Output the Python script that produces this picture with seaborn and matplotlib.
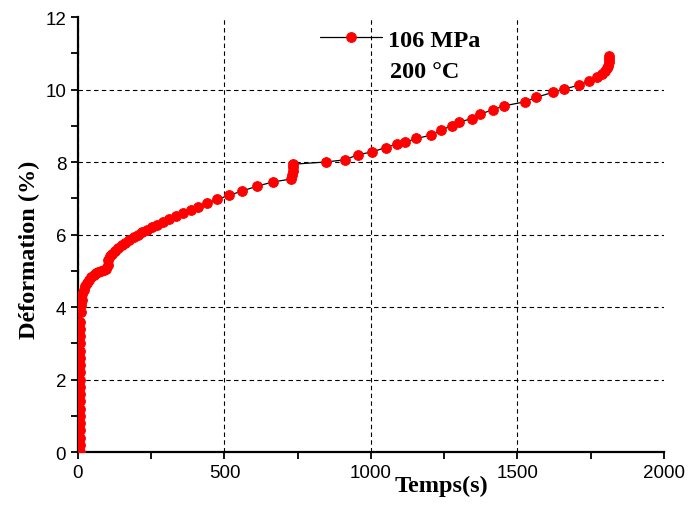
import matplotlib
matplotlib.use('Agg')
import matplotlib.pyplot as plt
from matplotlib.ticker import MultipleLocator
import seaborn as sns

# creep test, 106 MPa / 200 C
time_s = [6, 6, 6, 6, 6, 6, 7, 7, 7, 7, 7, 7, 7, 8, 8, 8, 8, 8, 8, 9,
          10, 12, 15, 19, 24, 30,
          38, 46, 54, 62, 70, 79, 88, 97,
          101, 104, 108, 115, 126, 138, 150, 162, 175, 190,
          205, 220, 236, 253, 270, 290, 310, 335, 360, 385,
          410, 440, 475, 515, 560, 610, 665, 727, 731, 733,
          735, 735, 845, 910, 955, 1005, 1050, 1090, 1115, 1155,
          1205, 1240, 1275, 1300, 1345, 1372, 1415, 1455, 1525, 1562,
          1620, 1658, 1710, 1745, 1772, 1790, 1800, 1806, 1810, 1812,
          1813, 1814]
strain_pct = [0, 0.2, 0.4, 0.6, 0.8, 1.0, 1.2, 1.4, 1.6, 1.8, 2.0, 2.2, 2.4,
              2.6, 2.8, 3.0, 3.2, 3.4, 3.6, 3.85,
              4.05, 4.2, 4.35, 4.48, 4.58, 4.67,
              4.75, 4.82, 4.88, 4.93, 4.97, 5.0, 5.03, 5.06,
              5.15, 5.3, 5.4, 5.47, 5.55, 5.62, 5.7, 5.77, 5.85, 5.92,
              6.0, 6.06, 6.13, 6.2, 6.27, 6.35, 6.43, 6.52, 6.6, 6.68,
              6.76, 6.86, 6.97, 7.08, 7.2, 7.33, 7.45, 7.53, 7.65, 7.75,
              7.85, 7.94, 8.0, 8.06, 8.2, 8.28, 8.4, 8.5, 8.54, 8.65,
              8.74, 8.88, 9.0, 9.1, 9.2, 9.32, 9.44, 9.55, 9.66, 9.78,
              9.92, 10.01, 10.12, 10.24, 10.35, 10.43, 10.5, 10.58, 10.66, 10.75,
              10.84, 10.92]
series_label = '106 MPa'
temp_label = '200 °C'
x_ticks = [0, 500, 1000, 1500, 2000]
y_ticks = [0, 2, 4, 6, 8, 10, 12]

sns.set_style('ticks')
plt.rcParams['font.family'] = ['Liberation Sans', 'DejaVu Sans']
plt.rcParams['text.color'] = 'black'
plt.rcParams['axes.labelcolor'] = 'black'

fig = plt.figure(figsize=(6.92, 5.06), dpi=100)
ax = fig.add_axes([0.1127, 0.1047, 0.8468, 0.8597])

sns.lineplot(x=time_s, y=strain_pct, ax=ax, estimator=None, sort=False,
             color='black', linewidth=0.9, marker='o', markersize=7,
             markerfacecolor='red', markeredgecolor='red',
             label=series_label, zorder=3)

ax.set_xlim(0, 2000)
ax.set_ylim(0, 12)
ax.set_xticks(x_ticks)
ax.set_yticks(y_ticks)
ax.xaxis.set_minor_locator(MultipleLocator(250))
ax.yaxis.set_minor_locator(MultipleLocator(1))
ax.tick_params(which='both', direction='out', length=5, width=1.3,
               color='black', labelsize=13.5, labelcolor='black')

for s in ['top', 'right']:
    ax.spines[s].set_visible(False)
for s in ['left', 'bottom']:
    ax.spines[s].set_linewidth(1.6)
    ax.spines[s].set_color('black')

ax.grid(True, which='major', color='black', linestyle=(0, (4, 3)), linewidth=0.8)
ax.yaxis.get_gridlines()[-1].set_visible(False)
ax.xaxis.get_gridlines()[-1].set_visible(False)
ax.set_axisbelow(True)

label_font = dict(family='Liberation Serif', fontweight='bold', fontsize=17.5,
                  color='black')
ax.set_xlabel('Temps(s)', **label_font)
ax.set_ylabel('Déformation (%)', **label_font)
ax.xaxis.set_label_coords(0.621, -0.053, transform=ax.transAxes)
ax.xaxis.label.set_va('top')
ax.yaxis.set_label_coords(-0.0645, 0.467)

leg = ax.legend(loc='upper left', bbox_to_anchor=(0.413, 0.973), frameon=False,
                handlelength=2.55, handletextpad=0.25, borderpad=0, borderaxespad=0,
                prop={'family': 'Liberation Serif', 'weight': 'bold', 'size': 17.5})
for t in leg.get_texts():
    t.set_color('black')
ax.text(0.532, 0.875, temp_label, transform=ax.transAxes, ha='left', va='center',
        **label_font)

fig.savefig('out.png', dpi=100)
